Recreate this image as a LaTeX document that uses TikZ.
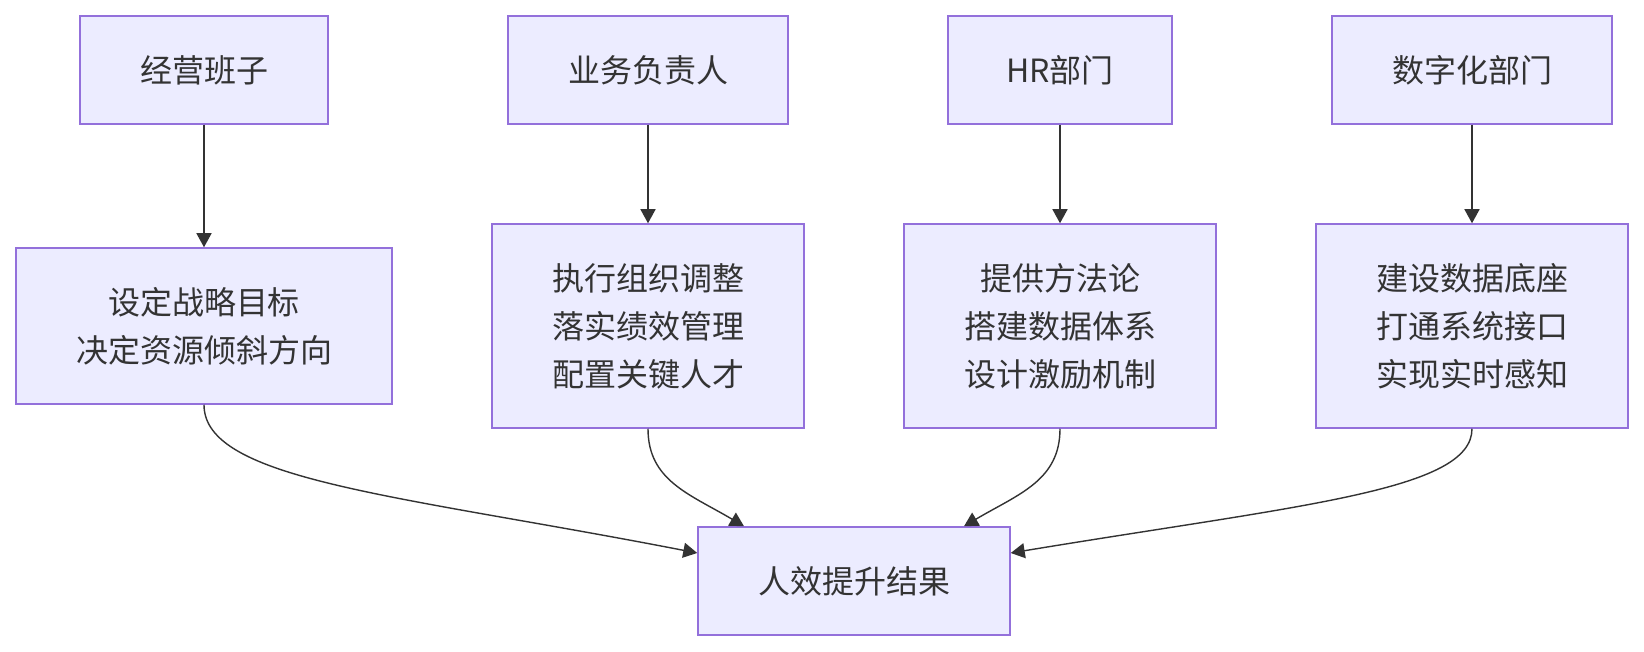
\documentclass[tikz,border=0pt]{standalone}
\usepackage{fontspec}
\setmainfont{Noto Sans CJK SC}
\usetikzlibrary{arrows.meta}
\definecolor{boxfill}{HTML}{ECECFF}
\definecolor{boxline}{HTML}{9370DB}
\definecolor{ink}{HTML}{333333}
\tikzset{
  box/.style={draw=boxline, fill=boxfill, line width=1.5pt, inner sep=0pt,
    align=center, text=ink, font=\fontsize{32}{48}\selectfont},
  edge/.style={draw=ink, line width=1.4pt, -{Triangle[length=14pt,width=15pt]}}
}
\begin{document}
\begin{tikzpicture}[x=1pt,y=-1pt]
\fill[white] (0,0) rectangle (1644,652);
\useasboundingbox (0,0) rectangle (1644,652);
% top row
\node[box, minimum width=248pt, minimum height=108pt] (A) at (204,70) {经营班子};
\node[box, minimum width=280pt, minimum height=108pt] (B) at (648,70) {业务负责人};
\node[box, minimum width=224pt, minimum height=108pt] (C) at (1060,70) {HR部门};
\node[box, minimum width=280pt, minimum height=108pt] (D) at (1472,70) {数字化部门};
% middle row
\node[box, minimum width=376pt, minimum height=156pt] (A2) at (204,326) {设定战略目标\\决定资源倾斜方向};
\node[box, minimum width=312pt, minimum height=204pt] (B2) at (648,326) {执行组织调整\\落实绩效管理\\配置关键人才};
\node[box, minimum width=312pt, minimum height=204pt] (C2) at (1060,326) {提供方法论\\搭建数据体系\\设计激励机制};
\node[box, minimum width=312pt, minimum height=204pt] (D2) at (1472,326) {建设数据底座\\打通系统接口\\实现实时感知};
% bottom
\node[box, minimum width=312pt, minimum height=108pt] (E) at (854,581) {人效提升结果};
% edges
\draw[edge] (A) -- (A2);
\draw[edge] (B) -- (B2);
\draw[edge] (C) -- (C2);
\draw[edge] (D) -- (D2);
\draw[edge] (A2.south) .. controls +(0,76) and +(-298,-58) .. ([yshift=28pt]E.west);
\draw[edge] (B2.south) .. controls +(0,52) and +(-54,-32) .. ([xshift=-110pt]E.north);
\draw[edge] (C2.south) .. controls +(0,52) and +(54,-32) .. ([xshift=110pt]E.north);
\draw[edge] (D2.south) .. controls +(0,62) and +(290,-48) .. ([yshift=28pt]E.east);
\end{tikzpicture}
\end{document}
